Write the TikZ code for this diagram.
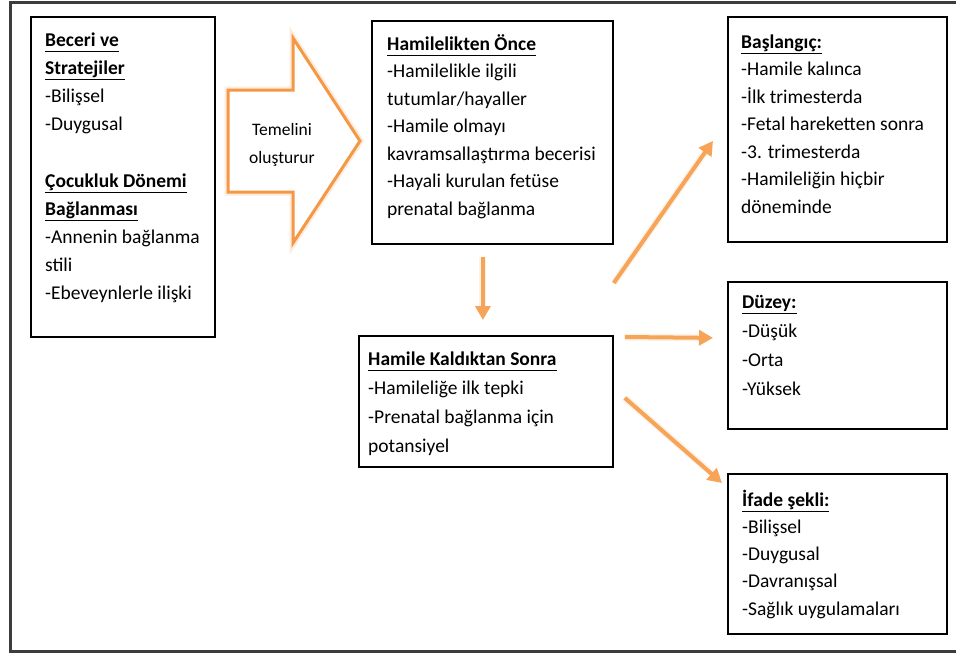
\documentclass[tikz,border=0pt]{standalone}
\usepackage{fontspec}
\setmainfont{Carlito}
\usetikzlibrary{arrows.meta}
\definecolor{orng}{RGB}{246,164,88}
\definecolor{bigorng}{RGB}{245,152,70}
\definecolor{framegray}{RGB}{60,60,60}
\newsavebox{\hdbox}
\newcommand{\hd}[1]{\leavevmode\sbox{\hdbox}{\textbf{#1}}\rlap{\rule[-6.2pt]{\wd\hdbox}{1.6pt}}\usebox{\hdbox}}
\newcommand{\boxtext}[2]{\parbox[t]{#1}{\raggedright #2}}
\tikzset{
  boxnode/.style={draw=black, line width=1.8pt, anchor=north west, inner sep=0pt, fill=white},
  txt/.style={anchor=base west, inner sep=0pt},
  conn/.style={draw=orng, line width=4pt, -{Triangle[length=14pt,width=15pt]}},
  glow/.style={draw=orng!40, line width=7pt, opacity=0.35}
}
\begin{document}
\begin{tikzpicture}[x=1pt,y=1pt]
\useasboundingbox (0,0) rectangle (956,-654);
\clip (0,0) rectangle (956,-654);
\fill[white] (0,0) rectangle (956,-654);
% outer frame
\draw[framegray, line width=3pt] (10,-2) rectangle (970,-651);

% boxes
\node[boxnode, minimum width=184pt, minimum height=320pt] (b1) at (30,-16) {};
\node[boxnode, minimum width=241pt, minimum height=223pt] (b2) at (371,-20) {};
\node[boxnode, minimum width=219pt, minimum height=225pt] (b3) at (727,-16) {};
\node[boxnode, minimum width=219pt, minimum height=147pt] (b4) at (727,-281) {};
\node[boxnode, minimum width=254pt, minimum height=131pt] (b5) at (358,-335) {};
\node[boxnode, minimum width=219pt, minimum height=160pt] (b6) at (727,-473) {};

% texts
\node[txt] (t1) at (45,-46) {\fontsize{19.5}{28.2}\selectfont\boxtext{170pt}{%
\hd{Beceri ve}\\ \hd{Stratejiler}\\ -Bilişsel\\ -Duygusal\\ \mbox{}\\ \hd{Çocukluk Dönemi}\\ \hd{Bağlanması}\\ -Annenin bağlanma\\ stili\\ -Ebeveynlerle ilişki}};
\node[txt] (t2) at (387,-50) {\fontsize{19.5}{27.5}\selectfont\boxtext{225pt}{%
\hd{Hamilelikten Önce}\\ -Hamilelikle ilgili\\ tutumlar/hayaller\\ -Hamile olmayı\\ kavramsallaştırma becerisi\\ -Hayali kurulan fetüse\\ prenatal bağlanma}};
\node[txt] (t3) at (741,-48) {\fontsize{19.5}{27.5}\selectfont\boxtext{205pt}{%
\hd{Başlangıç:}\\ -Hamile kalınca\\ -İlk trimesterda\\ -Fetal hareketten sonra\\ -3. trimesterda\\ -Hamileliğin hiçbir\\ döneminde}};
\node[txt] (t4) at (742,-308) {\fontsize{19.5}{29}\selectfont\boxtext{200pt}{%
\hd{Düzey:}\\ -Düşük\\ -Orta\\ -Yüksek}};
\node[txt] (t5) at (368,-365) {\fontsize{19.5}{29}\selectfont\boxtext{240pt}{%
\hd{Hamile Kaldıktan Sonra}\\ -Hamileliğe ilk tepki\\ -Prenatal bağlanma için\\ potansiyel}};
\node[txt] (t6) at (742,-506) {\fontsize{19.5}{27.3}\selectfont\boxtext{200pt}{%
\hd{İfade şekli:}\\ -Bilişsel\\ -Duygusal\\ -Davranışsal\\ -Sağlık uygulamaları}};

% big block arrow
\draw[bigorng!35, line width=7pt, line join=miter, opacity=0.5]
  (228,-90) -- (293,-90) -- (293,-38) -- (360,-141) -- (293,-243) -- (293,-192) -- (228,-192) -- cycle;
\draw[bigorng, line width=3pt, fill=white, line join=miter] (228,-90) -- (293,-90) -- (293,-38) -- (360,-141) -- (293,-243) -- (293,-192) -- (228,-192) -- cycle;
\node[align=center, inner sep=0pt, anchor=base, font=\fontsize{17.5}{28}\selectfont] (ta) at (282,-163) {Temelini\\ oluşturur};

% connectors
\draw[glow] ([shift={(-9.5,-12)}]b2.south) -- ([shift={(-3,22)}]b5.north);
\draw[conn] ([shift={(-9.5,-12)}]b2.south) -- ([shift={(-3,15)}]b5.north);
\draw[glow] ([shift={(0,52)}]b5.north east) -- ([shift={(-18,-17)}]b3.west);
\draw[conn] ([shift={(0,52)}]b5.north east) -- ([shift={(-14,-11.5)}]b3.west);
\draw[glow] ([shift={(11,-2)}]b5.north east) -- ([shift={(-20,17.5)}]b4.west);
\draw[conn] ([shift={(11,-2)}]b5.north east) -- ([shift={(-14,17.5)}]b4.west);
\draw[glow] ([shift={(11,3.5)}]b5.east) -- ([shift={(-10,-5)}]b6.north west);
\draw[conn] ([shift={(11,3.5)}]b5.east) -- ([shift={(-5,-10)}]b6.north west);
\end{tikzpicture}
\end{document}
